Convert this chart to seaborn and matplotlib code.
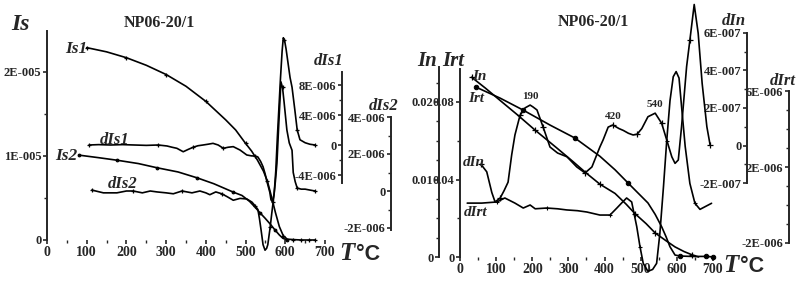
import numpy as np
import matplotlib
matplotlib.use('Agg')
import matplotlib.pyplot as plt
import seaborn as sns

# ---------------- data: left panel (NP06-20/1, Is) ----------------
T_is1 = [100, 150, 200, 250, 300, 350, 400, 450, 475, 500, 515, 530, 545, 555, 565,
         575, 585, 595, 605, 620, 640, 660, 675]
is1 = [2.29, 2.24, 2.17, 2.08, 1.97, 1.83, 1.65, 1.43, 1.31, 1.15, 1.06, 0.95, 0.82,
       0.70, 0.52, 0.33, 0.16, 0.05, 0.01, 0.005, 0.0, 0.0, 0.0]          # x1E-5

T_is2 = [81, 130, 176, 230, 277, 330, 378, 420, 469, 491, 510, 524, 537, 549, 562,
         574, 585, 594, 605]
is2 = [1.01, 0.98, 0.95, 0.91, 0.86, 0.81, 0.74, 0.67, 0.57, 0.53, 0.46, 0.39, 0.32,
       0.26, 0.19, 0.12, 0.06, 0.02, 0.0]                                  # x1E-5

T_dis1 = [106, 130, 160, 190, 220, 250, 280, 302, 315, 327, 343, 355, 368, 380, 393,
          405, 418, 431, 444, 456, 469, 486, 503, 515, 524, 531, 538, 544, 549, 553,
          557, 561, 564, 568, 572, 576, 580, 584, 588, 592, 595, 598, 602, 607, 612,
          617, 624, 630, 637, 650, 662, 675]
dis1 = [0, 0.05, 0, 0.05, 0, -0.05, 0, -0.13, -0.3, -0.44, -0.9, -0.6, -0.3, -0.1, 0,
        0.1, 0.22, 0, -0.44, -0.3, -0.22, -0.67, -1.33, -1.45, -1.47, -1.6, -2.2, -2.9,
        -3.8, -4.7, -5.5, -6.3, -7.3, -7.6, -6.5, -3.5, 1.0, 5.0, 9.0, 12.5, 14.3, 14.0,
        12.8, 10.9, 9.0, 7.7, 4.7, 2.0, 0.7, 0.3, 0.1, 0.0]                # x1E-6

T_dis2 = [113, 142, 176, 200, 217, 240, 260, 277, 300, 318, 340, 365, 385, 400, 410,
          425, 440, 453, 469, 486, 503, 516, 524, 531, 535, 539, 544, 549, 553, 556,
          562, 566, 570, 575, 579, 584, 589, 593, 597, 604, 610, 617, 620, 625, 630,
          640, 650, 662, 675]
dis2 = [0.05, -0.1, -0.1, 0, 0, -0.1, 0, -0.05, -0.1, -0.15, 0, -0.1, 0, -0.1, -0.2,
        -0.05, -0.15, -0.3, -0.5, -0.4, -0.43, -0.6, -0.8, -1.0, -1.5, -2.1, -2.9, -3.2,
        -3.1, -2.9, -1.95, -1.2, -0.5, 0.5, 1.5, 3.8, 5.9, 5.6, 4.8, 3.3, 2.6, 2.2, 1.0,
        0.5, 0.16, 0.1, 0.1, 0.05, 0.0]                                    # x1E-6

# ---------------- data: right panel (In, Irt) ----------------
T_in = [32, 70, 111, 160, 207, 267, 313, 350, 387, 429, 460, 484, 515, 540, 570, 595,
        620, 641, 660]
In = [0.0232, 0.0218, 0.0202, 0.0183, 0.0164, 0.0141, 0.0123, 0.0108, 0.0094, 0.0082,
      0.0068, 0.0056, 0.0043, 0.0031, 0.0021, 0.0013, 0.0007, 0.0003, 0.0]

T_irt = [44, 111, 174, 250, 318, 387, 429, 466, 490, 520, 540, 558, 570, 581, 595, 609,
         640, 680, 690, 700]
Irt = [0.0877, 0.082, 0.0759, 0.068, 0.0614, 0.052, 0.045, 0.038, 0.0335, 0.0279, 0.022,
       0.0156, 0.0105, 0.0053, 0.001, 0.0005, 0.0003, 0.0003, 0.0002, 0.0]

T_din = [58, 74, 88, 97, 111, 122, 133, 143, 152, 166, 180, 194, 202, 213, 230, 249, 270,
         296, 323, 346, 365, 387, 396, 410, 423, 440, 452, 466, 479, 490, 503, 520, 540,
         558, 572, 586, 595, 604, 613, 627, 636, 648, 659, 670, 683, 692]
din = [-1.0, -1.4, -2.5, -3.0, -2.8, -2.4, -1.95, -0.5, 0.56, 1.6, 2.0, 2.15, 2.05, 1.89,
       0.98, -0.08, -0.4, -0.6, -1.14, -1.46, -1.14, -0.08, 0.3, 0.98, 1.09, 0.9, 0.8,
       0.65, 0.56, 0.6, 0.9, 1.53, 1.72, 1.18, 0.29, -0.6, -0.95, -0.77, 1.0, 4.2, 5.6,
       7.5, 5.97, 3.3, 1.0, 0.03]                                          # x1E-7

T_dirt = [20, 60, 102, 124, 152, 175, 194, 208, 240, 270, 295, 325, 351, 387, 415, 434,
          447, 461, 475, 489, 498, 507, 520, 533, 544, 553, 563, 572, 581, 590, 598, 606,
          613, 623, 636, 650, 664, 678, 696]
dirt = [0.1, 0.1, 0.16, 0.37, 0.1, -0.16, 0.0, -0.2, -0.16, -0.2, -0.26, -0.3, -0.37,
        -0.53, -0.53, -0.16, 0.1, 0.37, 0.16, -1.14, -2.2, -3.08, -3.5, -3.4, -3.08, -1.5,
        0.97, 3.4, 5.5, 6.77, 7.04, 6.7, 5.2, 3.1, 1.14, 0.09, -0.23, -0.09, 0.09]  # x1E-6

peak_labels = ['190', '420', '540']
peak_T = [194, 423, 540]
peak_v = [2.15, 1.09, 1.72]

x_ticks = [0, 100, 200, 300, 400, 500, 600, 700]

# ---------------- style ----------------
sns.set_theme(style='ticks')
plt.rcParams['font.family'] = ['Liberation Serif', 'DejaVu Serif']
plt.rcParams['font.weight'] = 'bold'
plt.rcParams['axes.linewidth'] = 1.4
plt.rcParams['xtick.major.width'] = 1.2
plt.rcParams['ytick.major.width'] = 1.2
plt.rcParams['xtick.minor.width'] = 1.0
plt.rcParams['ytick.minor.width'] = 1.0

W, H = 800, 293
fig = plt.figure(figsize=(W / 100, H / 100), dpi=100)
fig.patch.set_facecolor('white')


def fx(x):
    return x / W


def fy(y):
    return 1 - y / H


LW = 1.2


def draw(ax, x, y, scale, **kw):
    sns.lineplot(x=np.asarray(x, float), y=np.asarray(y, float) * scale, ax=ax,
                 color='black', lw=LW, sort=False, estimator=None, legend=False,
                 clip_on=False, mec='black', mfc='black', **kw)


def style_y(ax, lim, major, labels, minor, bounds, pos=None, fs=9):
    ax.set_ylim(*lim)
    ax.set_yticks(major)
    ax.set_yticklabels(labels, fontweight='bold')
    ax.set_yticks(minor, minor=True)
    for s in ['top', 'right', 'bottom']:
        ax.spines[s].set_visible(False)
    ax.spines['left'].set_visible(True)
    ax.spines['left'].set_bounds(*bounds)
    if pos is not None:
        ax.spines['left'].set_position(('axes', pos))
    ax.yaxis.set_ticks_position('left')
    ax.yaxis.set_label_position('left')
    ax.tick_params(axis='y', which='major', direction='out', length=3, pad=1,
                   labelsize=fs, left=True, right=False, labelleft=True, labelright=False)
    ax.tick_params(axis='y', which='minor', direction='out', length=2, left=True, right=False)
    ax.set_ylabel('')


def style_x(ax):
    ax.set_xlim(0, 700)
    ax.set_xticks(x_ticks)
    ax.set_xticklabels([str(v) for v in x_ticks], fontweight='bold')
    ax.set_xticks(np.arange(50, 700, 100), minor=True)
    ax.spines['bottom'].set_bounds(0, 700)
    ax.tick_params(axis='x', which='major', direction='out', length=3, pad=1, labelsize=10)
    ax.tick_params(axis='x', which='minor', direction='out', length=2)
    ax.set_xlabel('')


def twin(ax):
    tw = ax.twinx()
    tw.patch.set_visible(False)
    tw.tick_params(axis='x', which='both', bottom=False, labelbottom=False)
    return tw


# ================= LEFT PANEL =================
axL = fig.add_axes([fx(47), fy(240), 278 / W, 240 / H])
axL.patch.set_visible(False)
style_x(axL)
style_y(axL, (0, 240 / 84 * 1e-5), [0, 1e-5, 2e-5], ['0', '1E-005', '2E-005'],
        [0.5e-5, 1.5e-5], (0, 2.49e-5))

axL1 = twin(axL)
style_y(axL1, (-(240 - 145) / 7.5e6, 145 / 7.5e6), [-4e-6, 0, 4e-6, 8e-6],
        ['-4E-006', '0', '4E-006', '8E-006'], [-2e-6, 2e-6, 6e-6], (-5.07e-6, 9.7e-6),
        pos=(342 - 47) / 278)
axL2 = twin(axL)
style_y(axL2, (-(240 - 191) / 18.5e6, 191 / 18.5e6), [-2e-6, 0, 2e-6, 4e-6],
        ['-2E-006', '0', '2E-006', '4E-006'], [-1e-6, 1e-6, 3e-6], (-2.1e-6, 4e-6),
        pos=(391 - 47) / 278)

draw(axL, T_is1, is1, 1e-5, marker='+', ms=3.5, mew=0.9,
     markevery=[0, 2, 4, 6, 9, 13, 17, 19, 20, 21, 22])
draw(axL, T_is2, is2, 1e-5, marker='o', ms=2.0,
     markevery=[0, 2, 4, 6, 8, 12, 15, 18])
draw(axL1, T_dis1, dis1, 1e-6, marker='+', ms=3.5, mew=0.9,
     markevery=[0, 6, 12, 18, 24, 33, 41, 47, 51])
draw(axL2, T_dis2, dis2, 1e-6, marker='+', ms=3.5, mew=0.9,
     markevery=[0, 4, 10, 16, 22, 30, 37, 44, 48])

# ================= RIGHT PANEL =================
axR = fig.add_axes([fx(460), fy(257), 253 / W, 257 / H])
axR.patch.set_visible(False)
style_x(axR)
style_y(axR, (0, 257 / 1937.5), [0, 0.04, 0.08], ['0', '0.04', '0.08'],
        [0.02, 0.06], (0, 0.097))

axRn = twin(axR)
style_y(axRn, (0, 257 / 7750), [0, 0.01, 0.02], ['0', '0.01', '0.02'],
        [0.0025, 0.005, 0.0075, 0.0125, 0.015, 0.0175, 0.0225], (0, 0.0245),
        pos=(439 - 460) / 253)
axRd = twin(axR)
style_y(axRd, (-(257 - 145.5) / 18.8e7, 145.5 / 18.8e7), [-2e-7, 0, 2e-7, 4e-7, 6e-7],
        ['-2E-007', '0', '2E-007', '4E-007', '6E-007'], [-1e-7, 1e-7, 3e-7, 5e-7],
        (-2e-7, 6e-7), pos=(747 - 460) / 253)
axRt = twin(axR)
style_y(axRt, (-(257 - 205) / 18.95e6, 205 / 18.95e6), [-2e-6, 2e-6, 6e-6],
        ['-2E-006', '2E-006', '6E-006'], [-1e-6, 0, 1e-6, 3e-6, 4e-6, 5e-6],
        (-2e-6, 6e-6), pos=(789 - 460) / 253)

draw(axRn, T_in, In, 1.0, marker='+', ms=4.5, mew=0.9,
     markevery=[0, 4, 8, 11, 13, 17])
draw(axR, T_irt, Irt, 1.0, marker='o', ms=3.2,
     markevery=[0, 2, 4, 7, 15, 17, 19])
draw(axRd, T_din, din, 1e-7, marker='+', ms=4, mew=0.9,
     markevery=[0, 4, 9, 14, 19, 24, 29, 33, 40, 45])
draw(axRt, T_dirt, dirt, 1e-6, marker='+', ms=3, mew=0.8,
     markevery=[2, 8, 14, 20, 27, 35])

for lab, tt, v in zip(peak_labels, peak_T, peak_v):
    axRd.annotate(lab, (tt, v * 1e-7), xytext=(0, 3), textcoords='offset points',
                  ha='center', va='bottom', fontsize=8, fontweight='bold')

# ================= TEXT =================
def t(x, y, s, fs, style='italic', family=None, ha='center', va='center'):
    kw = dict(fontsize=fs, fontweight='bold', fontstyle=style, ha=ha, va=va)
    if family:
        kw['family'] = family
    fig.text(fx(x), fy(y), s, **kw)


t(159, 23, 'NP06-20/1', 11.5, style='normal')
t(593, 22, 'NP06-20/1', 11.5, style='normal')
t(20, 25, 'Is', 17)
t(76, 49, 'Is1', 12.5)
t(66, 156, 'Is2', 12.5)
t(115, 140, 'dIs1', 12)
t(123, 184, 'dIs2', 12)
t(329, 61, 'dIs1', 12)
t(384, 106, 'dIs2', 12)

t(427, 61, 'In', 15)
t(453, 61, 'Irt', 15)
t(479, 77, 'In', 11)
t(476, 98, 'Irt', 11)
t(474, 162, 'dIn', 11)
t(476, 212, 'dIrt', 11)
t(734, 21, 'dIn', 12)
t(783, 81, 'dIrt', 12)

t(339, 253, 'T', 18, ha='left')
t(356, 254, '°C', 15.5, style='normal', family=['Liberation Sans', 'DejaVu Sans'], ha='left')
t(723, 266, 'T', 18, ha='left')
t(740, 267, '°C', 15.5, style='normal', family=['Liberation Sans', 'DejaVu Sans'], ha='left')

fig.savefig('out.png', dpi=100, facecolor='white')
